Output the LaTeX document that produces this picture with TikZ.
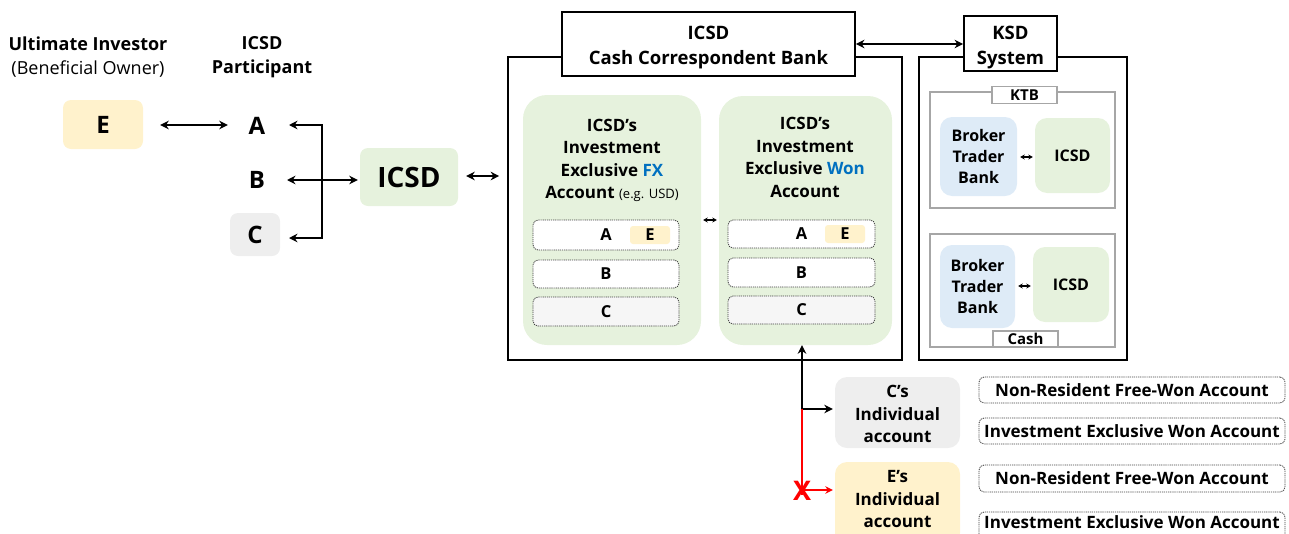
\documentclass[tikz,border=0pt]{standalone}
\usepackage{fontspec}
\setmainfont{Open Sans}
\usetikzlibrary{arrows.meta}

\definecolor{yel}{HTML}{FFF2CC}
\definecolor{grn}{HTML}{E6F2DD}
\definecolor{gry}{HTML}{EEEEEE}
\definecolor{blu}{HTML}{DEEBF7}
\definecolor{accent}{HTML}{0070C0}
\definecolor{thin}{HTML}{A6A6A6}
\definecolor{xred}{HTML}{FF0000}

\tikzset{
  txt/.style={align=center, inner sep=0pt, font=\fontsize{17}{22.5}\selectfont\bfseries},
  hdr/.style={align=center, inner sep=0pt, font=\fontsize{18}{24}\selectfont\bfseries},
  big/.style={inner sep=0pt, font=\fontsize{24}{26}\selectfont\bfseries},
  soft/.style={rounded corners=8pt, inner sep=0pt},
  panel/.style={fill=grn, rounded corners=24pt, inner sep=0pt},
  slot/.style={draw=black!75, dash pattern=on 1.2pt off 0.9pt, line width=0.8pt,
               rounded corners=5pt, inner sep=0pt, font=\fontsize{16.5}{18}\selectfont\bfseries},
  wide/.style={draw=black!75, dash pattern=on 1.2pt off 0.9pt, line width=0.8pt,
               rounded corners=5pt, inner sep=0pt, font=\fontsize{17}{18}\selectfont\bfseries},
  frame/.style={draw, line width=1.6pt, inner sep=0pt},
  titlebox/.style={draw, fill=white, line width=1.9pt, inner sep=0pt},
  titletext/.style={align=center, inner sep=0pt, font=\fontsize{18.5}{25}\selectfont\bfseries},
  group/.style={draw=thin, line width=1.3pt, inner sep=0pt},
  tag/.style={draw=thin, fill=white, line width=1.2pt, inner sep=0pt,
              font=\fontsize{15}{16}\selectfont\bfseries},
  minor/.style={inner sep=0pt, align=center, font=\fontsize{16}{21}\selectfont\bfseries},
  link/.style={line width=1.9pt, {Stealth[length=8.5pt,width=8.5pt]}-{Stealth[length=8.5pt,width=8.5pt]}},
  onearrow/.style={line width=1.9pt, -{Stealth[length=8.5pt,width=8.5pt]}},
  minilink/.style={line width=1.5pt, {Stealth[length=4.5pt,width=5pt]}-{Stealth[length=4.5pt,width=5pt]}},
}

\begin{document}
\begin{tikzpicture}[x=1pt,y=-1pt]
\useasboundingbox (0,0) rectangle (1289,533);

% column headings
\node[hdr] (hdrInv) at (88,57) {Ultimate Investor\\\mdseries (Beneficial Owner)};
\node[hdr] (hdrPart) at (262,57) {ICSD\\Participant};

% investor and participants
\node[soft, fill=yel, minimum width=80, minimum height=49, big] (E) at (103,124.5) {E};
\node[big, minimum width=30, minimum height=30] (A) at (257,126) {A};
\node[big, minimum width=30, minimum height=30] (B) at (257,180) {B};
\node[soft, fill=gry, minimum width=50, minimum height=43, big] (C) at (255,234.5) {C};
\node[soft, fill=grn, minimum width=98, minimum height=58,
      font=\fontsize{28}{30}\selectfont\bfseries] (icsd) at (409,177) {ICSD};

\coordinate (Aend) at (289,125);
\coordinate (Bend) at (287,180);
\coordinate (Cend) at (289,238);
\coordinate (junc) at (322,125);

\draw[link] ([xshift=17pt]E.east |- 0,125) -- ([xshift=-14pt]A.west |- 0,125);
\draw[link] (Aend) -- (junc) |- (Cend);
\draw[link] (Bend) -- ([xshift=-2pt]icsd.west |- Bend);

% cash correspondent bank
\node[frame, minimum width=394, minimum height=303] (bank) at (705,208.5) {};
\node[panel, minimum width=178, minimum height=250] (fx) at (612,220) {};
\node[panel, minimum width=173, minimum height=249] (won) at (805.5,220.5) {};
\node[titlebox, minimum width=293, minimum height=64] (bankT) at (708.5,44) {};
\node[titletext] (bankTxt) at (708.5,48) {ICSD\\Cash Correspondent Bank};

\draw[link] ([xshift=8pt]icsd.east |- 0,176) -- ([xshift=-8pt]bank.west |- 0,176);

\node[txt] (fxT) at (612,160.5)
     {ICSD’s\\Investment\\Exclusive \textcolor{accent}{FX}\\Account
      {\mdseries\fontsize{13}{14}\selectfont (e.g. USD)}};
\node[txt] (wonT) at (805,157.5)
     {ICSD’s\\Investment\\Exclusive \textcolor{accent}{Won}\\Account};

\node[slot, fill=white, minimum width=146, minimum height=30] (fxA) at (606,235) {};
\node[soft, rounded corners=3pt, fill=yel, minimum width=40, minimum height=18,
      font=\fontsize{16.5}{18}\selectfont\bfseries] (fxE) at (650,235) {E};
\node[font=\fontsize{16.5}{18}\selectfont\bfseries, inner sep=0pt] (fxAt) at (606,235) {A};
\node[slot, fill=white, minimum width=146, minimum height=28] (fxB) at (606,274) {B};
\node[slot, fill=gry!50, minimum width=146, minimum height=29] (fxC) at (606,311.5) {C};

\node[slot, fill=white, minimum width=147, minimum height=28] (wonA) at (801.5,234) {};
\node[soft, rounded corners=3pt, fill=yel, minimum width=40, minimum height=18,
      font=\fontsize{16.5}{18}\selectfont\bfseries] (wonE) at (845,234) {E};
\node[font=\fontsize{16.5}{18}\selectfont\bfseries, inner sep=0pt] (wonAt) at (801.5,234) {A};
\node[slot, fill=white, minimum width=147, minimum height=29] (wonB) at (801.5,272.5) {B};
\node[slot, fill=gry!50, minimum width=147, minimum height=28] (wonC) at (801.5,310) {C};

\draw[minilink] ([xshift=2pt]fx.east |- 0,220) -- ([xshift=-2pt]won.west |- 0,220);

% KSD system
\node[frame, minimum width=208, minimum height=303] (ksd) at (1023,208.5) {};
\node[titlebox, minimum width=93, minimum height=55] (ksdT) at (1010.5,43.5) {};
\node[titletext] (ksdTxt) at (1010.5,47.5) {KSD\\System};
\draw[link] (bankT.east) -- (ksdT.west |- bankT.east);

\node[group, minimum width=185, minimum height=116] (ktb) at (1022.5,150) {};
\node[tag, minimum width=65, minimum height=17] (ktbT) at (1024.5,95) {KTB};
\node[soft, rounded corners=12pt, fill=blu, minimum width=77, minimum height=79, minor]
     (brk1) at (978.5,156.5) {Broker\\Trader\\Bank};
\node[soft, rounded corners=12pt, fill=grn, minimum width=75, minimum height=75, minor]
     (icsd1) at (1072.5,155.5) {ICSD};
\draw[minilink] ([xshift=3pt]brk1.east |- 0,157) -- ([xshift=-2pt]icsd1.west |- 0,157);

\node[group, minimum width=185, minimum height=113] (cash) at (1022.5,290.5) {};
\node[tag, minimum width=65, minimum height=16] (cashT) at (1025.5,339) {Cash};
\node[soft, rounded corners=12pt, fill=blu, minimum width=75, minimum height=83, minor]
     (brk2) at (977.5,286.5) {Broker\\Trader\\Bank};
\node[soft, rounded corners=12pt, fill=grn, minimum width=76, minimum height=75, minor]
     (icsd2) at (1071,284.5) {ICSD};
\draw[minilink] ([xshift=3pt]brk2.east |- 0,286) -- ([xshift=-2pt]icsd2.west |- 0,286);

% individual accounts
\node[soft, rounded corners=12pt, fill=gry, minimum width=125, minimum height=71]
     (cInd) at (897.5,412.5) {};
\node[txt] (cIndT) at (897.5,414) {C’s\\Individual\\account};
\node[soft, rounded corners=12pt, fill=yel, minimum width=125, minimum height=83]
     (eInd) at (897.5,503.5) {};
\node[txt] (eIndT) at (897.5,499.5) {E’s\\Individual\\account};

\node[wide, minimum width=306, minimum height=26] (c1) at (1132,390) {Non-Resident Free-Won Account};
\node[wide, minimum width=306, minimum height=26] (c2) at (1132,431) {Investment Exclusive Won Account};
\node[wide, minimum width=306, minimum height=27] (e1) at (1132,478.5) {Non-Resident Free-Won Account};
\node[wide, minimum width=306, minimum height=30] (e2) at (1132,527) {};
\node[inner sep=0pt, font=\fontsize{17}{18}\selectfont\bfseries] (e2T) at (1132,522.5)
     {Investment Exclusive Won Account};

\coordinate (split) at (802,409);
\coordinate (stop) at (802,495);
\draw[onearrow] (split) -- (won.south -| split);
\draw[onearrow] ([xshift=-0.9pt]split) -- ([xshift=-2pt]cInd.west |- split);
\draw[xred, line width=1.7pt] (split) -- (stop);
\draw[xred, line width=1.7pt, -{Stealth[length=7.5pt,width=7.5pt]}] (802,490) -- ([xshift=-2pt]eInd.west |- 0,490);
\node[text=xred, inner sep=0pt, font=\fontsize{27}{27}\selectfont\bfseries] (xmark) at (802,491) {X};

\end{tikzpicture}
\end{document}
